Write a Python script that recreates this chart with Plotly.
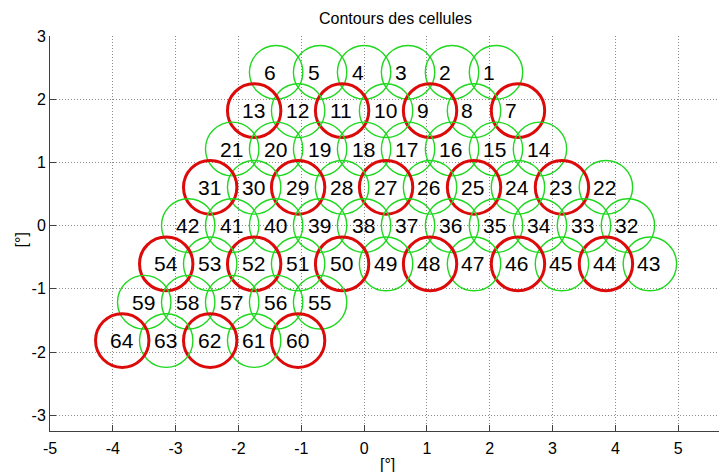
import plotly.graph_objects as go

# ---- data ----
cell_ids = list(range(1, 65))
cell_x = [2.1, 1.4, 0.7, 0.0, -0.7, -1.4,
          2.45, 1.75, 1.05, 0.35, -0.35, -1.05, -1.75,
          2.8, 2.1, 1.4, 0.7, 0.0, -0.7, -1.4, -2.1,
          3.85, 3.15, 2.45, 1.75, 1.05, 0.35, -0.35, -1.05, -1.75, -2.45,
          4.2, 3.5, 2.8, 2.1, 1.4, 0.7, 0.0, -0.7, -1.4, -2.1, -2.8,
          4.55, 3.85, 3.15, 2.45, 1.75, 1.05, 0.35, -0.35, -1.05, -1.75, -2.45, -3.15,
          -0.7, -1.4, -2.1, -2.8, -3.5,
          -1.05, -1.75, -2.45, -3.15, -3.85]
cell_y = [2.425] * 6 + [1.819] * 7 + [1.212] * 8 + [0.606] * 10 + [0.0] * 11 \
    + [-0.606] * 12 + [-1.212] * 5 + [-1.819] * 5
cell_radius = 0.425
red_cells = [7, 9, 11, 13, 23, 25, 27, 29, 31, 44, 46, 48, 50, 52, 54, 60, 62, 64]

x_ticks = [-5, -4, -3, -2, -1, 0, 1, 2, 3, 4, 5]
x_tick_labels = ["-5", "-4", "-3", "-2", "-1", "0", "1", "2", "3", "4", "5"]
y_ticks = [-3, -2, -1, 0, 1, 2, 3]
y_tick_labels = ["-3", "-2", "-1", "0", "1", "2", "3"]
title_text = "Contours des cellules"
x_label = "[°]"
y_label = "[°]"

FONT = "Liberation Sans, Arial, Helvetica, sans-serif"
GREEN = "#1fd81f"
RED = "#dd0a0a"

fig = go.Figure()
fig.add_trace(go.Scatter(x=cell_x, y=cell_y, mode="markers",
                         marker=dict(size=1, opacity=0), hoverinfo="skip",
                         showlegend=False))

shapes = []
annotations = []
for cid, cx, cy in zip(cell_ids, cell_x, cell_y):
    red = cid in red_cells
    shapes.append(dict(type="circle", xref="x", yref="y",
                       x0=cx - cell_radius, x1=cx + cell_radius,
                       y0=cy - cell_radius, y1=cy + cell_radius,
                       line=dict(color=RED if red else GREEN,
                                 width=3 if red else 1.4),
                       layer="above"))
    annotations.append(dict(x=cx - 0.2, y=cy, xref="x", yref="y",
                            text=str(cid), showarrow=False,
                            xanchor="left", yanchor="middle", xshift=-2,
                            font=dict(family=FONT, size=21, color="black")))

annotations.append(dict(x=0.5157, y=1.0455, xref="paper", yref="paper",
                        text=title_text, showarrow=False,
                        xanchor="center", yanchor="middle",
                        font=dict(family=FONT, size=16, color="black")))
annotations.append(dict(x=0.505, y=-0.084, xref="paper", yref="paper",
                        text=x_label, showarrow=False,
                        xanchor="center", yanchor="middle",
                        font=dict(family=FONT, size=16, color="black")))
annotations.append(dict(x=-0.043, y=0.483, xref="paper", yref="paper",
                        text=y_label, showarrow=False, textangle=-90,
                        xanchor="center", yanchor="middle",
                        font=dict(family=FONT, size=16, color="black")))

axis_common = dict(showgrid=True, gridcolor="#8c8c8c", griddash="1px,2px",
                   gridwidth=1, zeroline=False, showline=True,
                   linecolor="#404040", linewidth=1, ticks="inside",
                   ticklen=6, tickcolor="#404040", tickwidth=1,
                   tickfont=dict(family=FONT, size=16, color="black"),
                   automargin=False, fixedrange=True)

fig.update_layout(
    template="none",
    width=719, height=472,
    margin=dict(l=50, r=0, t=35.5, b=41.3, pad=0),
    paper_bgcolor="white", plot_bgcolor="white",
    showlegend=False,
    shapes=shapes, annotations=annotations,
    xaxis=dict(range=[-5, 5.65], tickvals=x_ticks, ticktext=x_tick_labels,
               ticklabelstandoff=3, **axis_common),
    yaxis=dict(range=[-3.25, 3.0], tickvals=y_ticks, ticktext=y_tick_labels,
               **axis_common),
)

fig.write_html("out.html",
               config={"displayModeBar": False, "staticPlot": True},
               post_script="document.body.style.margin='0px';document.body.style.overflow='hidden';")
